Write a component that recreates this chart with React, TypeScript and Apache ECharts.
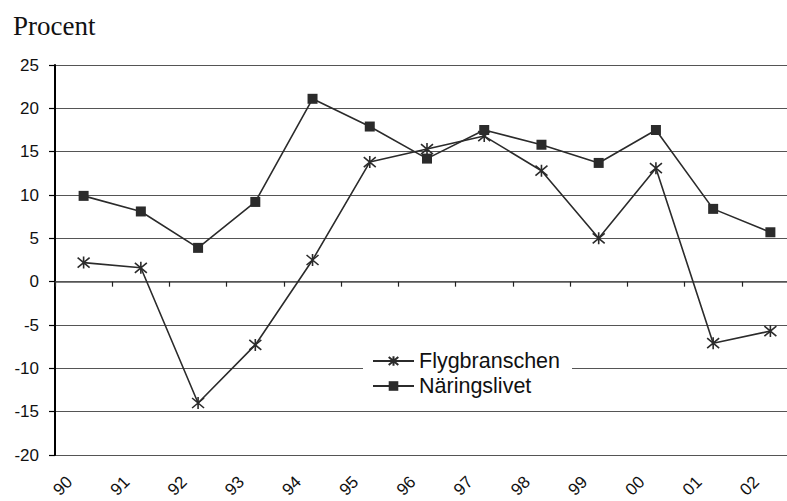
import React, { useEffect, useRef } from "react";
import * as echarts from "echarts";

const years = ["90", "91", "92", "93", "94", "95", "96", "97", "98", "99", "00", "01", "02"];
const flygbranschen = [2.2, 1.6, -14.0, -7.3, 2.5, 13.8, 15.3, 16.8, 12.8, 5.0, 13.1, -7.1, -5.7];
const naringslivet = [9.9, 8.1, 3.9, 9.2, 21.1, 17.9, 14.2, 17.5, 15.8, 13.7, 17.5, 8.4, 5.7];
const yTicks = { min: -20, max: 25, step: 5 };

const INK = "#2b2b2b";
const GRID = "#555555";
const SANS = "Arial, 'Liberation Sans', sans-serif";
const ASTERISK = "path://M0,0L10,10M10,0L0,10M5,-1L5,11";

export default function App() {
  const ref = useRef<HTMLDivElement>(null);

  useEffect(() => {
    document.body.style.margin = "0";
    document.body.style.overflow = "hidden";
    const chart = echarts.init(ref.current!, null, { renderer: "svg", width: 787, height: 501 });
    chart.setOption({
      animation: false,
      backgroundColor: "#ffffff",
      title: {
        text: "Procent",
        left: 8,
        top: 7,
        textStyle: {
          fontFamily: "'Liberation Serif', 'Times New Roman', serif",
          fontWeight: "normal",
          fontSize: 27,
          color: "#111",
        },
      },
      // the plot runs past the right edge of the canvas, so the last column is cut off
      grid: {
        left: 55,
        top: 65,
        width: 744,
        height: 390,
        containLabel: false,
        outerBoundsMode: "none",
      },
      legend: {
        orient: "vertical",
        left: 363,
        top: 343,
        backgroundColor: "#ffffff",
        padding: [7, 12, 7, 9],
        itemGap: 3,
        itemWidth: 41,
        itemHeight: 12,
        textStyle: { fontFamily: SANS, fontSize: 21.5, color: "#111" },
        data: ["Flygbranschen", "Näringslivet"],
      },
      xAxis: [
        {
          type: "category",
          data: years,
          position: "bottom",
          boundaryGap: true,
          axisLine: { show: false, onZero: false },
          axisTick: { show: false },
          axisLabel: {
            rotate: 45,
            margin: 10,
            padding: [0, 20, 0, 0],
            fontFamily: SANS,
            fontSize: 17,
            color: "#111",
          },
        },
        {
          type: "category",
          data: years,
          position: "bottom",
          boundaryGap: true,
          axisLine: { show: true, onZero: true, lineStyle: { color: GRID, width: 1.5 } },
          axisTick: { show: true, inside: false, length: 5, lineStyle: { color: "#222", width: 1.2 } },
          axisLabel: { show: false },
        },
      ],
      yAxis: {
        type: "value",
        min: yTicks.min,
        max: yTicks.max,
        interval: yTicks.step,
        axisLine: { show: true, lineStyle: { color: "#000", width: 2 } },
        axisTick: { show: true, inside: false, length: 6, lineStyle: { color: "#000", width: 1.2 } },
        axisLabel: { margin: 16, fontFamily: SANS, fontSize: 17, color: "#111" },
        splitLine: { show: true, lineStyle: { color: GRID, width: 1.2 } },
      },
      series: [
        {
          name: "Flygbranschen",
          type: "line",
          xAxisIndex: 0,
          data: flygbranschen,
          symbol: ASTERISK,
          symbolSize: 12,
          lineStyle: { color: INK, width: 1.6 },
          itemStyle: { color: "rgba(0,0,0,0)", borderColor: INK, borderWidth: 1.6 },
          z: 3,
        },
        {
          name: "Näringslivet",
          type: "line",
          xAxisIndex: 0,
          data: naringslivet,
          symbol: "rect",
          symbolSize: 10,
          lineStyle: { color: INK, width: 1.6 },
          itemStyle: { color: INK, borderColor: INK, borderWidth: 0 },
          z: 4,
        },
      ],
    });
    return () => chart.dispose();
  }, []);

  return (
    <div style={{ width: 787, height: 501, overflow: "hidden", position: "relative" }}>
      <div ref={ref} style={{ width: 787, height: 501, overflow: "hidden" }} />
    </div>
  );
}
